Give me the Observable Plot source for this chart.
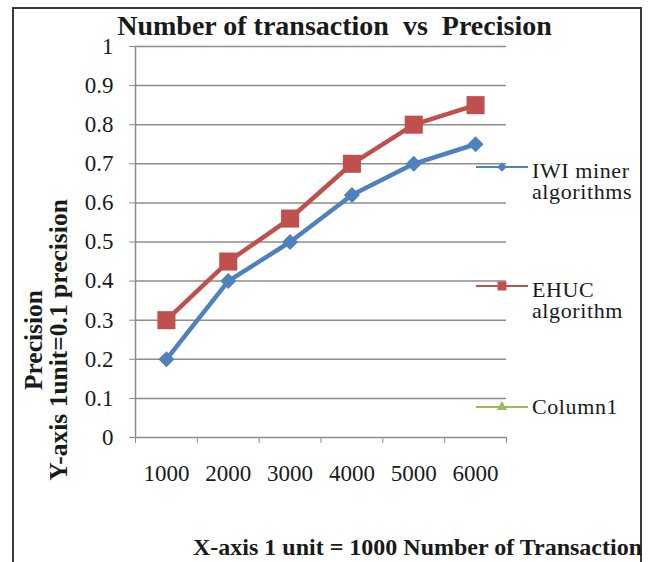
<!DOCTYPE html>
<html>
<head>
<meta charset="utf-8">
<script src="https://cdn.jsdelivr.net/npm/d3@7"></script>
<script src="https://cdn.jsdelivr.net/npm/@observablehq/plot@0.6"></script>
<style>
  html, body { margin: 0; padding: 0; background: #fff; }
  #wrap { position: relative; width: 653px; height: 562px; overflow: hidden; font-family: "Liberation Serif", "Times New Roman", serif; color: #1a1a1a; }
  #border { position: absolute; left: 12px; top: 7px; width: 630px; height: 600px; border: 2px solid #3a3a3a; box-sizing: border-box; }
  #chart { position: absolute; left: 0; top: 0; }
  .title { position: absolute; left: 0; width: 669px; top: 12px; text-align: center; font-weight: bold; font-size: 28px; line-height: 28px; white-space: pre; }
  .xtitle { position: absolute; right: 11px; top: 535px; font-weight: bold; font-size: 24px; line-height: 24px; white-space: pre; }
  .ytitle { position: absolute; left: 46px; top: 340px; transform: translate(-50%, -50%) rotate(-90deg); font-weight: bold; font-size: 25.5px; text-align: center; line-height: 25px; white-space: pre; }
  .legend { position: absolute; left: 474px; font-size: 22px; letter-spacing: 0.6px; }
  .legend .item { position: absolute; left: 0; width: 175px; }
  .legend svg { position: absolute; left: 0; top: 0; }
  .legend .lbl { position: absolute; left: 58px; line-height: 21px; white-space: pre; }
</style>
</head>
<body>
<div id="wrap">
  <div id="border"></div>
  <div id="chart"></div>
  <div class="title">Number of transaction  vs  Precision</div>
  <div class="ytitle">Precision
Y-axis 1unit=0.1 precision</div>
  <div class="xtitle">X-axis 1 unit = 1000 Number of Transaction</div>
  <div class="legend" id="legend"></div>
</div>
<script>
const categories = ["1000", "2000", "3000", "4000", "5000", "6000"];
const iwiMiner = [0.2, 0.4, 0.5, 0.62, 0.7, 0.75];
const ehuc = [0.3, 0.45, 0.56, 0.7, 0.8, 0.85];
const yTicks = [0, 0.1, 0.2, 0.3, 0.4, 0.5, 0.6, 0.7, 0.8, 0.9, 1];
const seriesNames = ["IWI miner\nalgorithms", "EHUC\nalgorithm", "Column1"];
const seriesColors = ["#4f81bd", "#c0504d", "#9bbb59"];
const seriesSymbols = ["diamond2", "square", "triangle"];

const positions = categories.map((c, i) => i + 1);
const boundaries = [0.5, ...positions.map(p => p + 0.5)];
const rows = categories.map((c, i) => ({pos: positions[i], cat: c, iwi: iwiMiner[i], ehuc: ehuc[i]}));

const gridColor = "#8c8c8c";
const chart = Plot.plot({
  width: 653,
  height: 562,
  marginLeft: 135,
  marginRight: 147,
  marginTop: 46,
  marginBottom: 125,
  style: {fontFamily: "'Liberation Serif', 'Times New Roman', serif", background: "transparent", overflow: "visible"},
  x: {domain: [0.5, 6.5], axis: null},
  y: {domain: [0, 1], axis: null},
  marks: [
    Plot.ruleY(yTicks.slice(1), {stroke: gridColor, strokeWidth: 1.5}),
    Plot.ruleY([0], {stroke: gridColor, strokeWidth: 1.5}),
    Plot.ruleX([0.5], {stroke: gridColor, strokeWidth: 1.5}),
    Plot.axisY({ticks: yTicks, tickSize: 6, tickPadding: 16, stroke: gridColor, fill: "#1a1a1a", fontSize: 23,
      tickFormat: d => String(+d.toFixed(1)), label: null}),
    Plot.axisX({ticks: boundaries, tickSize: 6, stroke: gridColor, tickFormat: () => "", label: null}),
    Plot.axisX({ticks: positions, tickSize: 0, tickPadding: 27, fill: "#1a1a1a", fontSize: 23,
      tickFormat: p => categories[p - 1], label: null}),
    Plot.line(rows, {x: "pos", y: "iwi", stroke: seriesColors[0], strokeWidth: 4.5}),
    Plot.line(rows, {x: "pos", y: "ehuc", stroke: seriesColors[1], strokeWidth: 4.5}),
    Plot.dot(rows, {x: "pos", y: "iwi", symbol: seriesSymbols[0], r: 7.2, fill: seriesColors[0], stroke: "none"}),
    Plot.dot(rows, {x: "pos", y: "ehuc", symbol: seriesSymbols[1], r: 10.2, fill: seriesColors[1], stroke: "none"})
  ]
});
document.getElementById("chart").appendChild(chart);

// legend
const legendY = [167, 286, 407];
const legend = document.getElementById("legend");
const symPaths = {
  diamond2: d3.symbol(d3.symbolDiamond2, 60)(),
  square: d3.symbol(d3.symbolSquare, 80)(),
  triangle: d3.symbol(d3.symbolTriangle, 45)()
};
seriesNames.forEach((name, i) => {
  const item = document.createElement("div");
  item.className = "item";
  item.style.top = legendY[i] + "px";
  const off = name.includes("\n") ? -7 : -11;
  item.innerHTML = `<svg width="56" height="2" style="overflow:visible">
      <line x1="2" y1="0" x2="54" y2="0" stroke="${seriesColors[i]}" stroke-width="2"/>
      <path d="${symPaths[seriesSymbols[i]]}" transform="translate(28,0)" fill="${seriesColors[i]}"/>
    </svg><div class="lbl" style="top:${off}px">${name}</div>`;
  legend.appendChild(item);
});
</script>
</body>
</html>
